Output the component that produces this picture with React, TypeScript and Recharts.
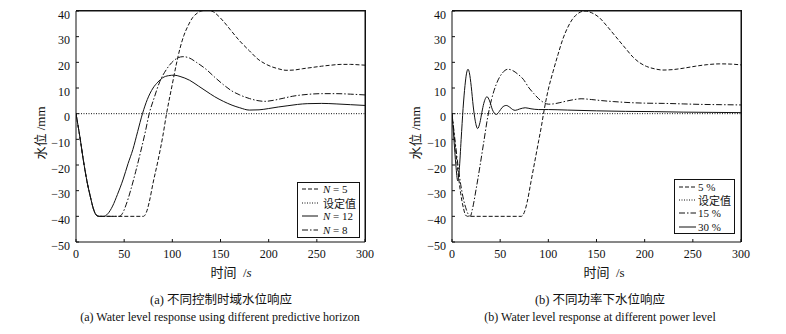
import React from 'react';
import { LineChart, Line, XAxis, YAxis } from 'recharts';

type Pt = [number, number];

const FONT = '"Liberation Serif", "Times New Roman", "Noto Sans CJK SC", serif';
const INK = '#111';

const X_TICKS = [0, 50, 100, 150, 200, 250, 300];
const Y_TICKS = [-50, -40, -30, -20, -10, 0, 10, 20, 30, 40];

const DASHED = '4 2';
const DOTTED = '1 1.5';
const DASHDOT = '6 2 1.5 2';
const SOLID = undefined;

// setpoint (设定值)
const SETPOINT: Pt[] = [[0, 0], [300, 0]];

// (a) different predictive horizon
const N5: Pt[] = [
  [0, 0], [4, -9], [8, -19], [12, -27.5], [15, -32.5], [18, -37], [21, -39.5], [24, -40],
  [70, -40], [73, -38.5], [76, -34.5], [80, -27], [85, -18.5], [90, -9], [94, 0], [100, 11.5],
  [104, 19], [108, 25.5], [112, 30.5], [116, 34], [121, 37.4], [126, 39.2], [131, 40.1],
  [137, 40.3], [143, 39.6], [148, 38], [153, 36], [160, 32.8], [170, 28.3], [180, 24.5],
  [189, 21.2], [196, 19.5], [203, 18.3], [210, 17.5], [218, 16.9], [226, 17], [235, 17.5],
  [245, 18], [255, 18.5], [265, 18.9], [275, 19.2], [285, 19.2], [295, 19], [300, 18.9],
];
const N12: Pt[] = [
  [0, 0], [4, -9], [8, -19], [12, -27.5], [15, -32.5], [18, -37], [21, -39.5], [24, -40],
  [29, -40], [33, -39], [38, -36], [43, -31.5], [49, -25.5], [54, -19.5], [59, -14], [64, -7],
  [69, 0], [74, 5.5], [80, 10], [85, 12.3], [90, 14], [96, 14.8], [102, 15], [108, 14.5],
  [118, 13], [127, 10.8], [135, 8.8], [144, 6.6], [153, 4.8], [162, 3.3], [170, 2.3],
  [180, 1.4], [190, 1.5], [200, 2], [210, 2.6], [220, 3.1], [230, 3.6], [240, 3.9],
  [255, 4], [270, 3.8], [285, 3.5], [300, 3.2],
];
const N8: Pt[] = [
  [0, 0], [4, -9], [8, -19], [12, -27.5], [15, -32.5], [18, -37], [21, -39.5], [24, -40],
  [45, -40], [48, -39], [52, -35.5], [57, -29.5], [62, -22.5], [67, -15], [72, -7], [76, 0],
  [81, 6], [87, 12.5], [94, 17.3], [101, 20.5], [106, 21.8], [111, 22.2], [117, 21.8],
  [125, 20], [135, 17.3], [144, 14.2], [153, 11.3], [162, 8.8], [170, 7.3], [180, 5.9],
  [190, 5], [196, 4.8], [205, 5.2], [215, 6], [225, 6.8], [240, 7.5], [255, 7.8], [270, 7.8],
  [285, 7.6], [300, 7.3],
];

// (b) different power level
const P5: Pt[] = [
  [0, 0], [3, -11], [6, -22], [9, -31], [12, -37], [14, -39.5], [16, -40], [72, -40],
  [75, -38.5], [78, -34.5], [82, -26.5], [86, -18.5], [90, -10.5], [93, -4.5], [95, 0],
  [100, 9.5], [105, 16.5], [110, 23], [115, 29], [120, 33.5], [125, 36.8], [130, 38.8],
  [138, 40], [145, 39.3], [153, 37.4], [160, 34.5], [170, 30], [180, 25.5], [188, 22],
  [195, 19.8], [202, 18.4], [210, 17.5], [219, 17], [230, 17.2], [240, 17.7], [253, 18.5],
  [265, 19.1], [278, 19.4], [290, 19.3], [300, 19],
];
const P15: Pt[] = [
  [0, 0], [3, -10], [6, -19.5], [9, -27.5], [12, -33.5], [15, -37.5], [17, -39.3], [19, -40],
  [21, -37.5], [25, -29.5], [29, -20.5], [33, -11], [37, -1.5], [41, 5.5], [46, 11.5],
  [52, 15.7], [58, 17.3], [63, 16.8], [68, 15.5], [74, 13.4], [80, 10], [85, 7.8], [90, 5.8],
  [95, 4.4], [100, 3.7], [105, 3.8], [112, 4.3], [120, 5], [127, 5.5], [134, 5.8], [145, 5.5],
  [155, 5.1], [168, 4.7], [185, 4.3], [200, 4.1], [220, 4], [240, 3.8], [260, 3.6],
  [280, 3.5], [300, 3.4],
];
const P30: Pt[] = [
  [0, 0], [2, -10], [4, -20], [6, -26.2], [7.5, -22], [9.5, -10], [11.5, 2], [13.5, 11],
  [15, 15.5], [16.6, 17.3], [18, 16], [20, 10.5], [22, 3], [24, -2.5], [26.6, -5.8], [29, -3.5],
  [31, 0.5], [33, 4], [36.3, 6.6], [39, 5], [42, 1.5], [45.9, -0.3], [49, 0.8], [52, 2.4],
  [56.3, 3.2], [60, 2.5], [63, 1.6], [65.6, 1.3], [70, 1.8], [76, 2.3], [82, 1.9], [90, 1.6],
  [100, 1.6], [120, 1.4], [150, 1.1], [180, 0.9], [210, 0.8], [240, 0.6], [270, 0.5],
  [300, 0.4],
];

interface Series {
  name: string;
  data: Pt[];
  dash?: string;
}

const SERIES_A: Series[] = [
  { name: 'N = 5', data: N5, dash: DASHED },
  { name: '设定值', data: SETPOINT, dash: DOTTED },
  { name: 'N = 12', data: N12, dash: SOLID },
  { name: 'N = 8', data: N8, dash: DASHDOT },
];

const SERIES_B: Series[] = [
  { name: '5 %', data: P5, dash: DASHED },
  { name: '设定值', data: SETPOINT, dash: DOTTED },
  { name: '15 %', data: P15, dash: DASHDOT },
  { name: '30 %', data: P30, dash: SOLID },
];

const fmtY = (v: number) => (v < 0 ? `\u2212${Math.abs(v)}` : `${v}`);

const toRows = (pts: Pt[]) => pts.map(([t, v]) => ({ t, v }));

const tickStyle = { fill: INK, fontSize: 12, fontFamily: FONT };

const W = 390;
const H = 270;
const M = { top: 10, right: 24, bottom: 0, left: 0 };
const Y_AXIS_W = 76;
const X_AXIS_H = 28;

// MATLAB-style box: ticks point inward on all four sides
function Plot({ series }: { series: Series[] }) {
  const plotTop = M.top + 1;
  const plotW = W - M.right - 1 - Y_AXIS_W;
  const plotH = H - M.bottom - X_AXIS_H - plotTop;
  return (
    <div style={{ position: 'relative', width: W, height: H }}>
      <LineChart width={W} height={H} margin={M}>
        <XAxis
          xAxisId="b"
          type="number"
          dataKey="t"
          domain={[0, 300]}
          ticks={X_TICKS}
          height={X_AXIS_H}
          tickSize={-3}
          tickMargin={10}
          stroke={INK}
          tick={tickStyle}
          allowDataOverflow
        />
        <XAxis
          xAxisId="t"
          orientation="top"
          type="number"
          dataKey="t"
          domain={[0, 300]}
          ticks={X_TICKS}
          height={1}
          tickSize={-3}
          tick={false}
          stroke={INK}
          allowDataOverflow
        />
        <YAxis
          yAxisId="l"
          type="number"
          domain={[-50, 40]}
          ticks={Y_TICKS}
          width={Y_AXIS_W}
          tickSize={-3}
          tickMargin={9}
          stroke={INK}
          tick={{ ...tickStyle, dy: 3.5 }}
          tickFormatter={fmtY}
          allowDataOverflow
        />
        <YAxis
          yAxisId="r"
          orientation="right"
          type="number"
          domain={[-50, 40]}
          ticks={Y_TICKS}
          width={1}
          tickSize={-3}
          tick={false}
          stroke={INK}
          allowDataOverflow
        />
        {series.map((s, i) => (
          <Line
            key={i}
            xAxisId="b"
            yAxisId="l"
            data={toRows(s.data)}
            dataKey="v"
            name={s.name}
            type="monotone"
            stroke={INK}
            strokeWidth={1}
            strokeDasharray={s.dash}
            dot={false}
            activeDot={false}
            isAnimationActive={false}
          />
        ))}
      </LineChart>
      {/* box outline (top and right edges) */}
      <div
        style={{
          position: 'absolute', left: Y_AXIS_W, top: plotTop - 1, width: plotW + 1, height: plotH + 1,
          boxSizing: 'border-box', borderTop: `1px solid ${INK}`, borderRight: `1px solid ${INK}`,
          pointerEvents: 'none',
        }}
      />
    </div>
  );
}

function LegendLabel({ text }: { text: string }) {
  if (text.startsWith('N ')) {
    return (
      <span>
        <i>N</i>
        {text.slice(1)}
      </span>
    );
  }
  return <span>{text}</span>;
}

function LegendBox({ series, left, top, width, lineW, gap, rowH }: {
  series: Series[]; left: number; top: number; width: number; lineW: number; gap: number; rowH: number;
}) {
  return (
    <div
      style={{
        position: 'absolute', left, top, width, boxSizing: 'border-box',
        border: `1px solid ${INK}`, background: '#fff', padding: '0 0 0 4px',
        fontFamily: FONT, fontSize: 11, color: INK,
      }}
    >
      {series.map((s, i) => (
        <div key={i} style={{ display: 'flex', alignItems: 'center', height: rowH, whiteSpace: 'nowrap' }}>
          <svg width={lineW} height={4} style={{ display: 'block' }}>
            <line x1={0} y1={2} x2={lineW} y2={2} stroke={INK} strokeWidth={1} strokeDasharray={s.dash} />
          </svg>
          <span style={{ marginLeft: gap }}>
            <LegendLabel text={s.name} />
          </span>
        </div>
      ))}
    </div>
  );
}

const abs = (extra: React.CSSProperties): React.CSSProperties => ({
  position: 'absolute', fontFamily: FONT, color: INK, whiteSpace: 'pre', ...extra,
});

export default function App() {
  return (
    <div style={{ position: 'absolute', left: 0, top: 0, width: 786, height: 334, background: '#fff', overflow: 'hidden' }}>
      <div style={{ position: 'absolute', left: 0, top: 0, width: W, height: H }}>
        <Plot series={SERIES_A} />
      </div>
      <div style={{ position: 'absolute', left: 376, top: 0, width: W, height: H }}>
        <Plot series={SERIES_B} />
      </div>

      <LegendBox series={SERIES_A} left={297} top={181.5} width={63} lineW={16} gap={5} rowH={13.5} />
      <LegendBox series={SERIES_B} left={674} top={179} width={61} lineW={17} gap={2} rowH={13.3} />

      {/* axis titles */}
      <div style={abs({ left: 39, top: 133, fontSize: 13, transform: 'translate(-50%, -50%) rotate(-90deg)' })}>水位 /mm</div>
      <div style={abs({ left: 414, top: 133, fontSize: 13, transform: 'translate(-50%, -50%) rotate(-90deg)' })}>水位 /mm</div>
      <div style={abs({ left: 231, top: 271, fontSize: 13, transform: 'translate(-50%, -50%)' })}>
        时间  /<i>s</i>
      </div>
      <div style={abs({ left: 604, top: 271, fontSize: 13, transform: 'translate(-50%, -50%)' })}>时间  /s</div>

      {/* captions */}
      <div style={abs({ left: 221, top: 298, fontSize: 12.5, transform: 'translate(-50%, -50%)' })}>(a) 不同控制时域水位响应</div>
      <div style={abs({ left: 220, top: 317, fontSize: 12, transform: 'translate(-50%, -50%)' })}>
        (a) Water level response using different predictive horizon
      </div>
      <div style={abs({ left: 600, top: 298, fontSize: 12.5, transform: 'translate(-50%, -50%)' })}>(b) 不同功率下水位响应</div>
      <div style={abs({ left: 600, top: 317, fontSize: 12, transform: 'translate(-50%, -50%)' })}>
        (b) Water level response at different power level
      </div>
    </div>
  );
}
